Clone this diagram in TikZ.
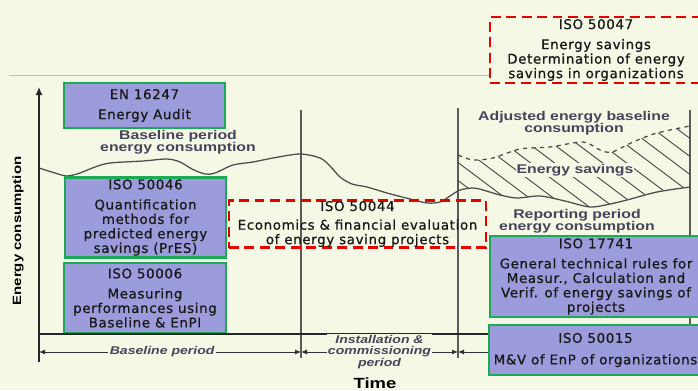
\documentclass[tikz,border=0pt]{standalone}
\usepackage{fontspec}
\setmainfont{DejaVu Sans}
\newfontfamily\boxfont[LetterSpace=5, FakeBold=0.8]{DejaVu Sans}
\newfontfamily\curvefont[FakeStretch=1.25]{Liberation Sans}
\usetikzlibrary{arrows.meta, positioning, calc}
\definecolor{paper}{HTML}{F6F8E6}
\definecolor{isofill}{HTML}{9C9CDC}
\definecolor{isoedge}{HTML}{1BAA55}
\definecolor{draftred}{HTML}{E60000}
\definecolor{labelgray}{HTML}{45455A}
\definecolor{linegray}{HTML}{5A5A5A}

\begin{document}
\begin{tikzpicture}[
    x=0.025cm, y=-0.025cm,
    font=\boxfont\fontsize{9.5}{10.3}\selectfont,
    isobox/.style={draw=isoedge, line width=1.6pt, fill=isofill, align=center, inner sep=1pt, text=black!90},
    draftbox/.style={draw=draftred, line width=2pt, dash pattern=on 7pt off 4pt, align=center, inner sep=0.5pt, text=black!90},
    curvelabel/.style={font=\curvefont\bfseries\fontsize{9}{8.8}\selectfont, text=labelgray, align=center, inner sep=0.5pt},
    spanlabel/.style={font=\curvefont\bfseries\itshape\fontsize{8}{8.4}\selectfont, text=labelgray, fill=paper, align=center, inner sep=1pt},
    axislabel/.style={font=\curvefont\bfseries\fontsize{8.5}{9}\selectfont, text=black, inner sep=0pt},
    marker/.style={draw=linegray, line width=1.1pt},
    axis/.style={draw=black!85, line width=1.3pt},
    span/.style={{Latex[length=1.5mm, width=1.3mm]}-{Latex[length=1.5mm, width=1.3mm]}, draw=black!80, line width=0.7pt},
    trend/.style={draw=black!70, line width=0.9pt}
]
\useasboundingbox (0,0) rectangle (698,390);
\fill[paper] (0,0) rectangle (698,390);
\clip (0,0) rectangle (698,390);

% period boundaries
\coordinate (origin) at (39,334);
\coordinate (ytop) at (39,87);
\coordinate (ybot) at (39,362);
\coordinate (insttop) at (301,110);
\coordinate (instbot) at (301,358);
\coordinate (reptop) at (458,108);
\coordinate (repbot) at (458,358);
\coordinate (endtop) at (690,110);
\coordinate (endbot) at (690,326);
\coordinate (rulel) at (9,75);
\coordinate (ruler) at (698,75);
\coordinate (b0) at (39,352);
\coordinate (b1) at (301,352);
\coordinate (b2) at (458,352);

\draw[black!25, line width=0.7pt] (rulel) -- (ruler);
\draw[marker] (insttop) -- (instbot);
\draw[marker] (reptop) -- (repbot);
\draw[marker] (endtop) -- (endbot);

% consumption curves
\draw[trend] plot[smooth] coordinates {(39,168) (55,173) (67,176) (80,173) (95,167) (110,163) (143,161) (167,159) (180,162) (192,169) (205,174) (215,173) (233,165) (253,162) (273,158) (300,154) (320,158) (330,166) (340,177) (352,184) (367,187) (387,193) (410,199) (427,203) (440,202) (450,196) (460,190) (473,188) (483,190) (500,195) (517,198) (540,196) (565,201) (590,207) (610,204) (627,200) (657,192) (690,187)};
\draw[trend, dashed] plot[smooth] coordinates {(458,155) (473,160) (493,158) (520,149) (550,147) (583,142) (600,150) (612,152) (633,142) (657,133) (690,126)};
\begin{scope}
  \clip plot[smooth] coordinates {(458,155) (473,160) (493,158) (520,149) (550,147) (583,142) (600,150) (612,152) (633,142) (657,133) (690,126)}
     -- plot[smooth] coordinates {(690,187) (657,192) (627,200) (610,204) (590,207) (565,201) (540,196) (517,198) (500,195) (483,190) (473,188) (458,190)} -- cycle;
  \foreach \i in {0,...,14}
    \draw[trend, line width=0.7pt] (340+24*\i,110) -- ++(140,105);
\end{scope}

% boxes
\node[isobox, minimum width=4.025cm, minimum height=1.125cm] (en16247) at (144.5,105.5) {EN 16247\\[4pt]Energy Audit};
\node[isobox, minimum width=4.025cm, minimum height=2.0cm] (iso50046) at (145.5,217.5) {ISO 50046\\[4pt]Quantification\\methods for\\predicted energy\\savings (PrES)};
\node[isobox, minimum width=4.05cm, minimum height=1.75cm] (iso50006) at (145,298) {ISO 50006\\[4pt]Measuring\\performances using\\Baseline \& EnPI};
\node[draftbox, minimum width=6.425cm, minimum height=1.15cm] (iso50044) at (357.5,224) {ISO 50044\\[3pt]Economics \& financial evaluation\\of energy saving projects};
\node[draftbox, fill=paper, minimum width=5.3cm, minimum height=1.65cm] (iso50047) at (596,50) {ISO 50047\\[4pt]Energy savings\\Determination of energy\\savings in organizations};
\node[isobox, minimum width=5.3cm, minimum height=2.025cm] (iso17741) at (596,276.5) {ISO 17741\\[4pt]General technical rules for\\Measur., Calculation and\\Verif. of energy savings of\\projects};
\node[isobox, minimum width=5.325cm, minimum height=1.25cm] (iso50015) at (595.5,350) {ISO 50015\\[5pt]M\&V of EnP of organizations};

% axes
\draw[axis, -{Latex[length=2mm, width=1.8mm]}] (ybot) -- (ytop);
\draw[axis, line width=1pt] (origin) -- (origin -| iso50015.west);

% periods
\draw[span] (b0) -- node[spanlabel, pos=0.47] (baseper) {Baseline period} (b1);
\draw[span] (b1) -- node[spanlabel] (instper) {Installation \&\\commissioning\\period} (b2);
\draw[{Latex[length=1.5mm, width=1.3mm]}-, draw=black!80, line width=0.7pt] (b2) -- (b2 -| iso50015.west);

% labels
\node[curvelabel] (baselbl) at (178,142) {Baseline period\\energy consumption};
\node[curvelabel] (adjlbl) at (574,123) {Adjusted energy baseline\\consumption};
\node[curvelabel, fill=paper] (savlbl) at (575,170) {Energy savings};
\node[curvelabel] (replbl) at (577,221) {Reporting period\\energy consumption};
\node[axislabel, rotate=90] (ylbl) at (18,231) {Energy consumption};
\node[axislabel, font=\curvefont\bfseries\fontsize{10.5}{11}\selectfont, anchor=base] (xlbl) at (375,388.5) {Time};
\end{tikzpicture}
\end{document}
